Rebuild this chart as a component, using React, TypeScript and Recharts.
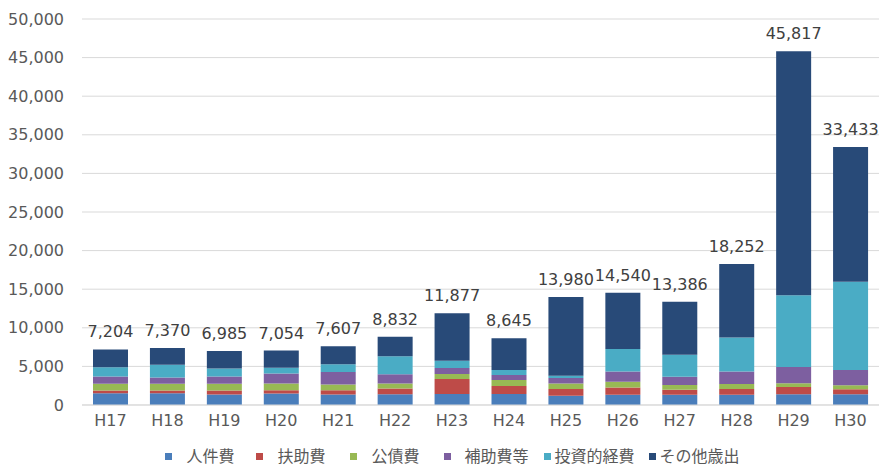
import React from "react";
import {
  Bar,
  BarChart,
  CartesianGrid,
  LabelList,
  Legend,
  XAxis,
  YAxis,
} from "recharts";

// 年度
const years = ["H17", "H18", "H19", "H20", "H21", "H22", "H23", "H24", "H25", "H26", "H27", "H28", "H29", "H30"];

// 歳出内訳（百万円）
const jinkenhi = [1530, 1530, 1360, 1480, 1350, 1390, 1420, 1420, 1200, 1330, 1330, 1330, 1390, 1390];
const fujohi = [350, 350, 520, 430, 560, 740, 1940, 1040, 870, 950, 650, 740, 950, 650];
const kousaihi = [870, 870, 870, 870, 740, 650, 650, 780, 730, 740, 610, 650, 480, 520];
const hojohi = [950, 820, 950, 1300, 1630, 1200, 780, 650, 700, 1330, 1080, 1630, 2110, 1980];
const toushi = [1200, 1640, 1040, 730, 1000, 2330, 950, 650, 300, 2900, 2850, 4400, 9290, 11440];
const sonota = [2304, 2160, 2245, 2244, 2327, 2522, 6137, 4105, 10180, 7290, 6866, 9502, 31597, 17453];
const totals = [7204, 7370, 6985, 7054, 7607, 8832, 11877, 8645, 13980, 14540, 13386, 18252, 45817, 33433];

const yTicks = [0, 5000, 10000, 15000, 20000, 25000, 30000, 35000, 40000, 45000, 50000];

const series = [
  { key: "jinkenhi", name: "人件費", color: "#4a7ebb", gap: 14, after: 22 },
  { key: "fujohi", name: "扶助費", color: "#be4b48", gap: 14, after: 25 },
  { key: "kousaihi", name: "公債費", color: "#98b954", gap: 14, after: 24 },
  { key: "hojohi", name: "補助費等", color: "#7d5fa0", gap: 14, after: 15 },
  { key: "toushi", name: "投資的経費", color: "#4aacc5", gap: 4, after: 14 },
  { key: "sonota", name: "その他歳出", color: "#284a78", gap: 4, after: 0 },
];

const data = years.map((year, i) => ({
  year,
  jinkenhi: jinkenhi[i],
  fujohi: fujohi[i],
  kousaihi: kousaihi[i],
  hojohi: hojohi[i],
  toushi: toushi[i],
  sonota: sonota[i],
  total: totals[i],
}));

const FONT = '"DejaVu Sans", "Noto Sans CJK JP", sans-serif';
const fmt = (v: any) => Number(v).toLocaleString("en-US");

function LegendRow() {
  return (
    <div
      style={{
        display: "flex",
        justifyContent: "center",
        alignItems: "center",
        paddingTop: 13,
        paddingLeft: 26,
        fontFamily: FONT,
        fontSize: 16,
        lineHeight: "17px",
        color: "#595959",
      }}
    >
      {series.map((s) => (
        <div key={s.key} style={{ display: "flex", alignItems: "center", marginRight: s.after }}>
          <span style={{ width: 7, height: 7, background: s.color, display: "inline-block", marginRight: s.gap }} />
          <span>{s.name}</span>
        </div>
      ))}
    </div>
  );
}

export default function App() {
  return (
    <div style={{ position: "absolute", left: 0, top: 0, background: "#fff" }}>
      <BarChart
        width={879}
        height={468}
        data={data}
        margin={{ top: 19, right: 0, bottom: 0, left: 0 }}
        barSize={35}
        style={{ fontFamily: FONT }}
      >
        <CartesianGrid vertical={false} stroke="#d9d9d9" />
        <XAxis
          dataKey="year"
          height={30}
          tickLine={false}
          axisLine={{ stroke: "#d9d9d9" }}
          tick={{ fill: "#595959", fontSize: 16 }}
          tickMargin={4}
        />
        <YAxis
          width={82}
          domain={[0, 50000]}
          ticks={yTicks}
          tickFormatter={fmt}
          tickLine={false}
          axisLine={false}
          tick={{ fill: "#595959", fontSize: 16 }}
          tickMargin={12}
        />
        <Legend verticalAlign="bottom" height={33} content={() => <LegendRow />} />
        {series.map((s) => (
          <Bar key={s.key} dataKey={s.key} name={s.name} stackId="a" fill={s.color} isAnimationActive={false}>
            {s.key === "sonota" && (
              <LabelList
                dataKey="total"
                position="top"
                offset={12}
                formatter={fmt}
                style={{ fill: "#404040", fontSize: 16 }}
              />
            )}
          </Bar>
        ))}
      </BarChart>
    </div>
  );
}
